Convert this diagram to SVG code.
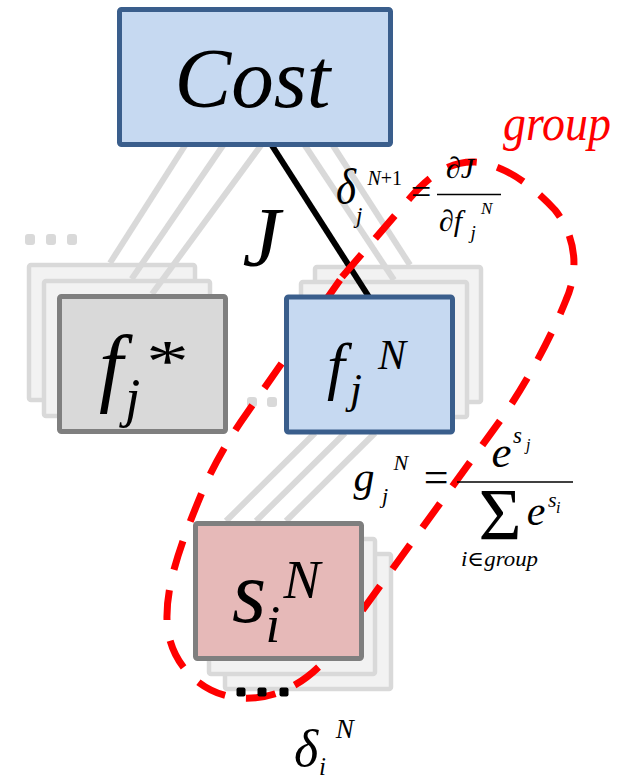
<svg xmlns="http://www.w3.org/2000/svg" width="624" height="778" viewBox="0 0 624 778">
<defs>
<rect id="box" width="166" height="135" rx="2"/>
</defs>
<g id="stacks" fill="#f2f2f2" stroke="#d9d9d9" stroke-width="4.5" stroke-linejoin="round">
<use href="#box" x="29" y="265"/>
<use href="#box" x="44" y="281"/>
<use href="#box" x="315" y="267"/>
<use href="#box" x="301" y="282"/>
<use href="#box" x="225" y="554"/>
<use href="#box" x="209" y="539"/>
</g>
<g id="ellipsis-grey" fill="#d9d9d9">
<rect x="25" y="234" width="10" height="11" rx="3"/>
<rect x="46" y="234" width="10" height="11" rx="3"/>
<rect x="67" y="234" width="10" height="11" rx="3"/>
<rect x="247" y="397" width="10" height="10" rx="3"/>
<rect x="267" y="397" width="10" height="10" rx="3"/>
<rect x="287" y="397" width="10" height="10" rx="3"/>
</g>
<g id="connectors" stroke="#d9d9d9" stroke-width="6" fill="none">
<line x1="186" y1="144" x2="110" y2="263"/>
<line x1="224" y1="144" x2="131.6" y2="279"/>
<line x1="262" y1="144" x2="152" y2="294"/>
<line x1="304" y1="144" x2="394" y2="280"/>
<line x1="332" y1="144" x2="410" y2="265"/>
<line x1="315" y1="433" x2="226" y2="521"/>
<line x1="345" y1="433" x2="256" y2="521"/>
<line x1="375" y1="433" x2="286" y2="521"/>
<line x1="271" y1="144" x2="369" y2="297" stroke="#000" stroke-width="6"/>
</g>
<g id="group-loop">
<path d="M342 277 L410 198 C430 175 450 161 475 162 C505 164 535 188 555 210 C575 235 580 268 566 300 C550 340 525 385 502 418 L330 655 C300 690 268 700 240 698 C200 695 168 662 167 620 C166 585 180 545 203 490 C215 462 230 437 247 413 Z" fill="none" stroke="#ff0000" stroke-width="7" stroke-dasharray="30 21"/>
</g>
<g id="cost">
<rect x="119.5" y="9.5" width="271" height="135" rx="2" fill="#c6d9f1" stroke="#3a5e8c" stroke-width="5" stroke-linejoin="round"/>
<text font-family="Liberation Serif, DejaVu Serif, serif" font-style="italic" x="174.5" y="106.5" font-size="85">Cost</text>
</g>
<g id="f-star">
<use href="#box" x="59.5" y="296.5" fill="#d9d9d9" stroke="#7f7f7f" stroke-width="5" stroke-linejoin="round"/>
<text font-family="Liberation Serif, DejaVu Serif, serif" font-style="italic" x="99" y="395" font-size="86">f</text>
<text font-family="Liberation Serif, DejaVu Serif, serif" font-style="italic" x="125" y="416" font-size="55">j</text>
<text font-family="Liberation Serif, DejaVu Serif, serif" x="146" y="380.6" font-size="60" textLength="43" lengthAdjust="spacingAndGlyphs">*</text>
</g>
<g id="f-N">
<use href="#box" x="286.5" y="297" fill="#c6d9f1" stroke="#3a5e8c" stroke-width="5" stroke-linejoin="round"/>
<text font-family="Liberation Serif, DejaVu Serif, serif" font-style="italic" x="327" y="387" font-size="64">f</text>
<text font-family="Liberation Serif, DejaVu Serif, serif" font-style="italic" x="350" y="403" font-size="43">j</text>
<text font-family="Liberation Serif, DejaVu Serif, serif" font-style="italic" x="378" y="368.6" font-size="42">N</text>
</g>
<g id="s-N">
<use href="#box" x="195.5" y="523.5" fill="#e6b9b8" stroke="#7f7f7f" stroke-width="5" stroke-linejoin="round"/>
<text font-family="Liberation Serif, DejaVu Serif, serif" font-style="italic" x="232" y="622" font-size="88">s</text>
<text font-family="Liberation Serif, DejaVu Serif, serif" font-style="italic" x="265.4" y="642.4" font-size="53">i</text>
<text font-family="Liberation Serif, DejaVu Serif, serif" font-style="italic" x="283.5" y="597.8" font-size="55">N</text>
</g>
<g id="labels">
<text font-family="Liberation Serif, DejaVu Serif, serif" font-style="italic" x="242.5" y="265.5" font-size="85">J</text>
<text font-family="Liberation Serif, DejaVu Serif, serif" font-style="italic" x="503" y="140" font-size="50" fill="#ff0000" textLength="108" lengthAdjust="spacingAndGlyphs">group</text>
<text font-family="Liberation Serif, DejaVu Serif, serif" font-style="italic" x="336" y="204" font-size="50" textLength="20" lengthAdjust="spacingAndGlyphs">δ</text>
<text font-family="Liberation Serif, DejaVu Serif, serif" font-style="italic" x="356" y="223" font-size="23">j</text>
<text font-family="Liberation Serif, DejaVu Serif, serif" font-style="italic" x="367.5" y="185" font-size="20">N<tspan font-style="normal">+1</tspan></text>
<text font-family="Liberation Serif, DejaVu Serif, serif" x="411" y="204" font-size="36">=</text>
<text font-family="Liberation Serif, DejaVu Serif, serif" font-style="italic" x="446" y="177.5" font-size="30"><tspan font-style="normal">∂</tspan>J</text>
<line x1="437" y1="194.5" x2="501" y2="194.5" stroke="#000" stroke-width="1.3"/>
<text font-family="Liberation Serif, DejaVu Serif, serif" font-style="italic" x="439" y="231" font-size="30"><tspan font-style="normal">∂</tspan>f</text>
<text font-family="Liberation Serif, DejaVu Serif, serif" font-style="italic" x="470.6" y="239" font-size="19">j</text>
<text font-family="Liberation Serif, DejaVu Serif, serif" font-style="italic" x="481" y="214" font-size="17">N</text>
<text font-family="Liberation Serif, DejaVu Serif, serif" font-style="italic" x="353.5" y="491.3" font-size="42">g</text>
<text font-family="Liberation Serif, DejaVu Serif, serif" font-style="italic" x="382" y="502.5" font-size="22">j</text>
<text font-family="Liberation Serif, DejaVu Serif, serif" font-style="italic" x="393.6" y="470.3" font-size="22">N</text>
<text font-family="Liberation Serif, DejaVu Serif, serif" x="423.7" y="492" font-size="44">=</text>
<line x1="457" y1="482" x2="573" y2="482" stroke="#000" stroke-width="1.5"/>
<text font-family="Liberation Serif, DejaVu Serif, serif" font-style="italic" x="491.6" y="466.5" font-size="45">e</text>
<text font-family="Liberation Serif, DejaVu Serif, serif" font-style="italic" x="513" y="442.7" font-size="23">s</text>
<text font-family="Liberation Serif, DejaVu Serif, serif" font-style="italic" x="526" y="449.7" font-size="16">j</text>
<text font-family="Liberation Serif, DejaVu Serif, serif" x="478.5" y="540" font-size="74">Σ</text>
<text font-family="Liberation Serif, DejaVu Serif, serif" font-style="italic" x="526.7" y="524.5" font-size="42">e</text>
<text font-family="Liberation Serif, DejaVu Serif, serif" font-style="italic" x="548" y="507" font-size="22">s</text>
<text font-family="Liberation Serif, DejaVu Serif, serif" font-style="italic" x="556" y="513" font-size="16">i</text>
<text font-family="Liberation Serif, DejaVu Serif, serif" font-style="italic" x="461" y="565.7" font-size="21" textLength="77" lengthAdjust="spacingAndGlyphs">i<tspan font-style="normal" font-family="DejaVu Serif, serif">∈</tspan>group</text>
<text font-family="Liberation Serif, DejaVu Serif, serif" font-style="italic" x="294" y="766" font-size="52">δ</text>
<text font-family="Liberation Serif, DejaVu Serif, serif" font-style="italic" x="319" y="775" font-size="25">i</text>
<text font-family="Liberation Serif, DejaVu Serif, serif" font-style="italic" x="335.7" y="738.4" font-size="27">N</text>
</g>
<g id="ellipsis-black" fill="#000">
<rect x="236.5" y="687.5" width="9" height="9" rx="2"/>
<rect x="257.5" y="687.5" width="9" height="9" rx="2"/>
<rect x="279.5" y="687.5" width="9" height="9" rx="2"/>
</g>
</svg>
